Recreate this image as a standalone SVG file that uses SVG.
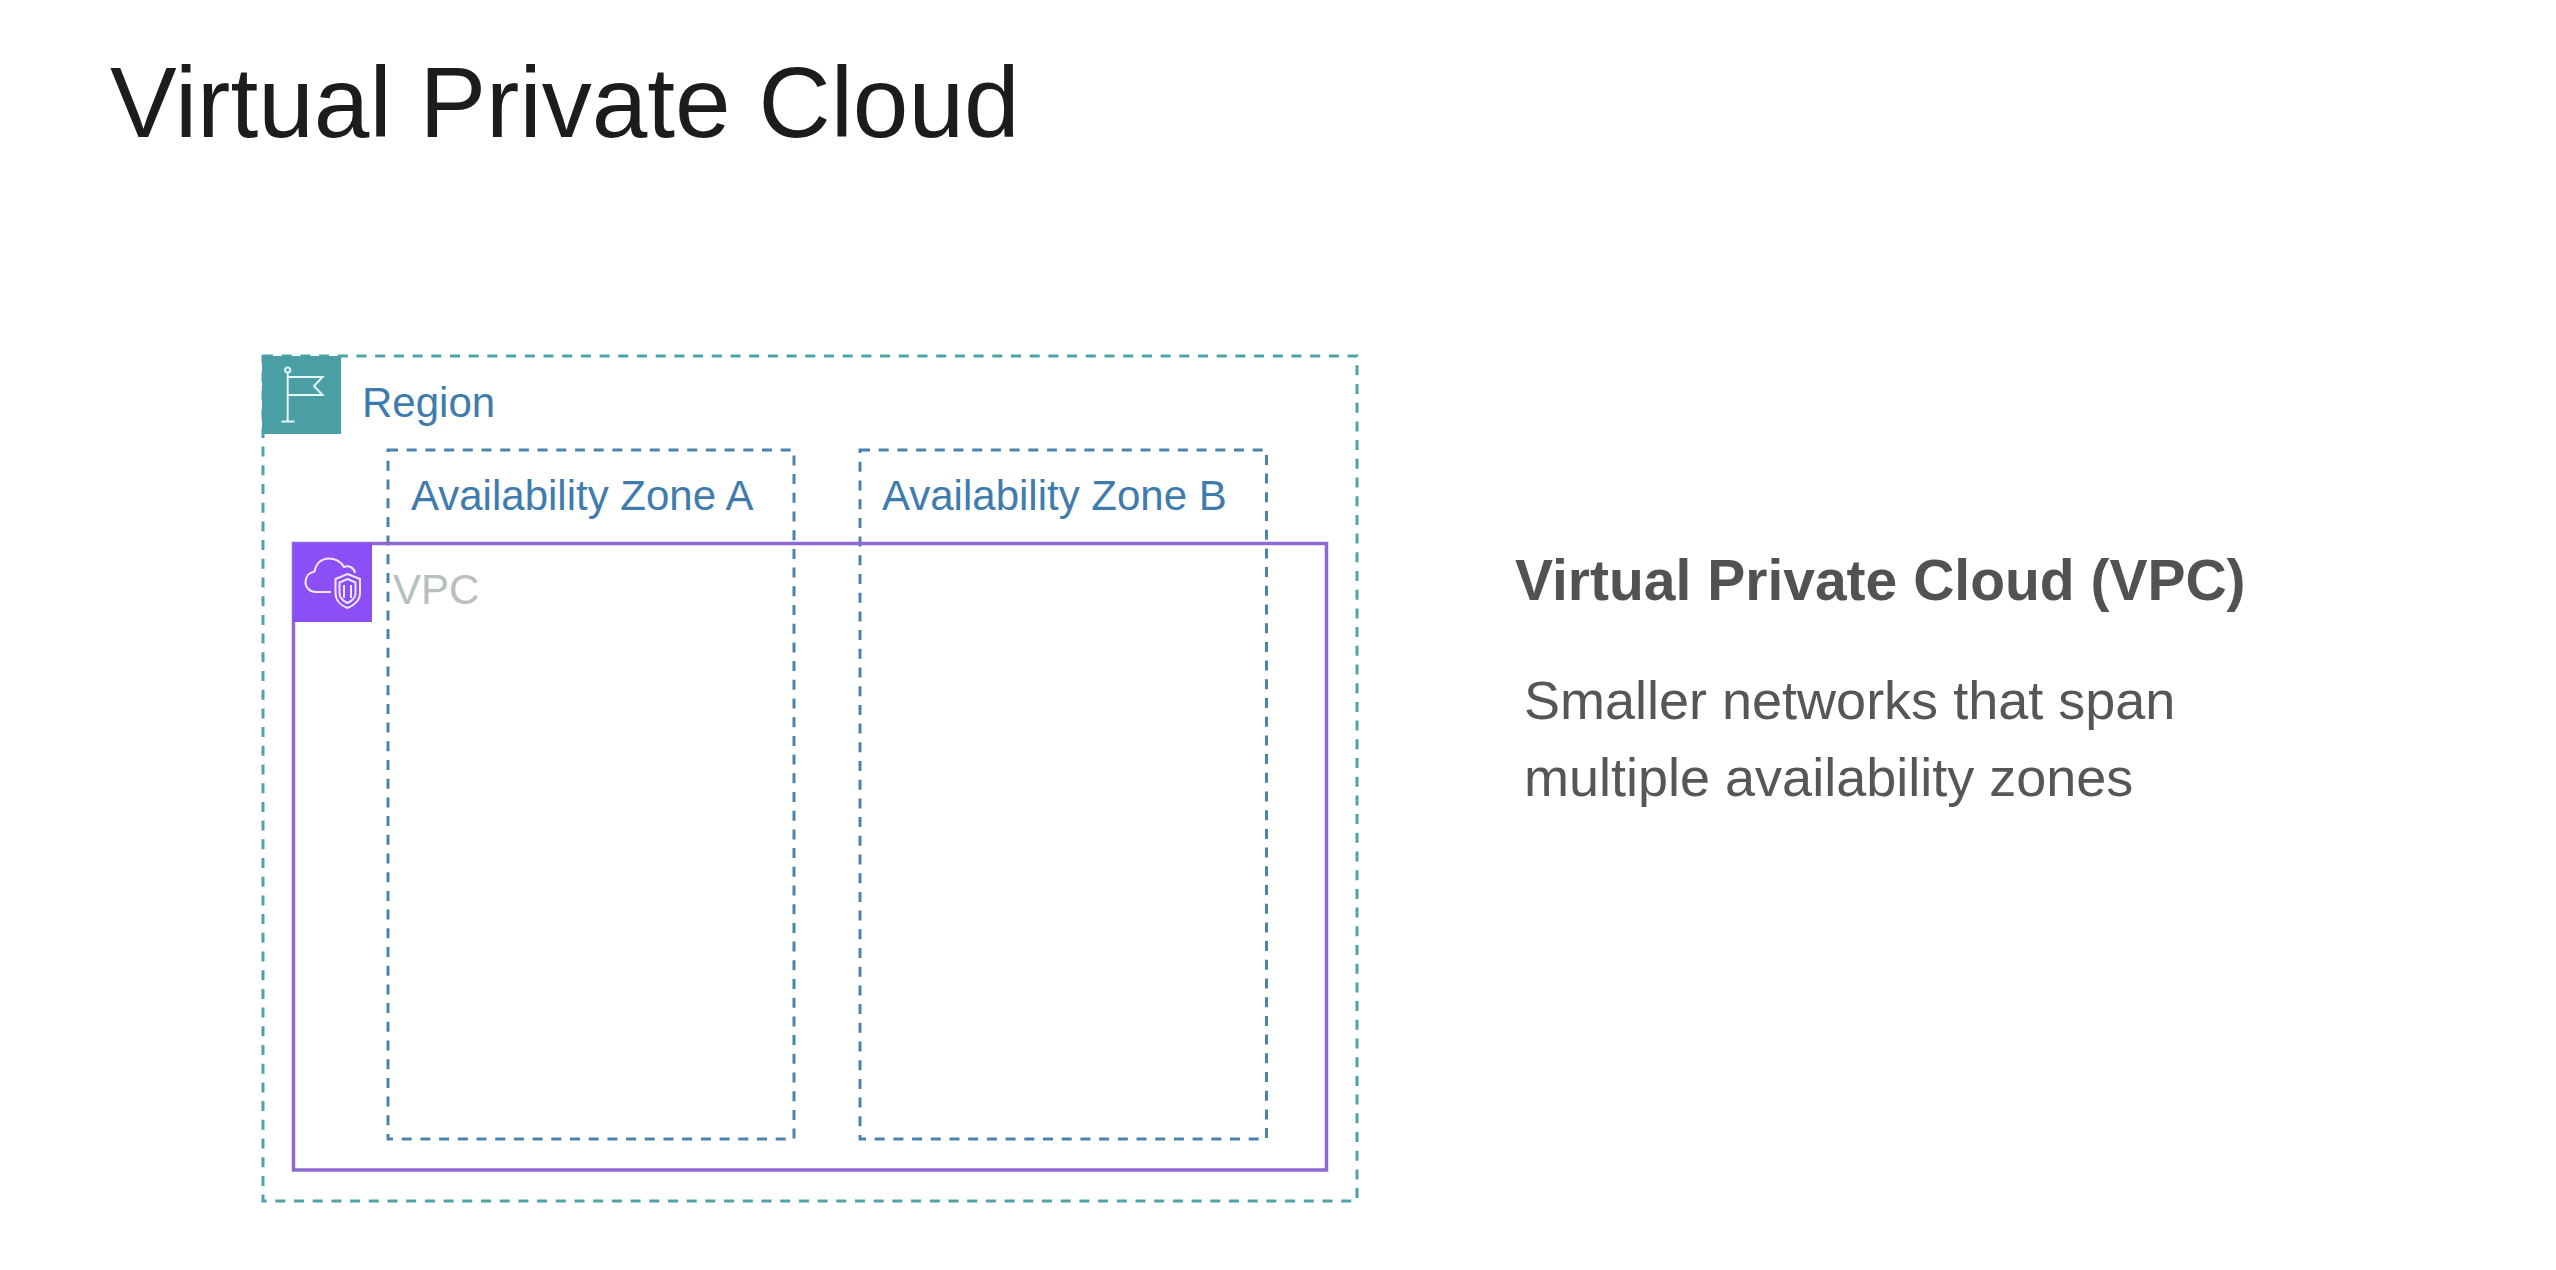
<svg xmlns="http://www.w3.org/2000/svg" width="2556" height="1270" viewBox="0 0 2556 1270">
<style>
text{font-family:"Liberation Sans",Arial,sans-serif}
.box{fill:none}
.region{stroke:#4fa3a6;stroke-width:3;stroke-dasharray:10 8.7}
.az{stroke:#4a83ad;stroke-width:3;stroke-dasharray:10 8.7}
.vpc{stroke:#8f69d3;stroke-width:3.5}
.blue{fill:#3f7cad;font-size:42px}
.ico{fill:none;stroke:#e6f6f6;stroke-width:2}
.ico2{fill:none;stroke:#f0e8ff;stroke-width:2}
</style>
<rect width="2556" height="1270" fill="#fff"/>
<text id="title" x="110" y="137" font-size="100" fill="#1c1c1c">Virtual Private Cloud</text>
<g id="region">
<rect class="box region" x="263" y="356" width="1094" height="845"/>
<rect x="262" y="356" width="79" height="78" fill="#4a9fa4"/>
<g class="ico">
<circle cx="287.7" cy="370" r="2.6"/>
<path d="M287.7 373V421.5M281.5 421.5H294.5M287.7 377H322.5L314 386L322.5 395H287.7"/>
</g>
<text class="blue" x="362" y="417">Region</text>
</g>
<g id="az-a">
<rect class="box az" x="388" y="450" width="406" height="689"/>
<text class="blue" x="411" y="510">Availability Zone A</text>
</g>
<g id="az-b">
<rect class="box az" x="860" y="450" width="406.500" height="689"/>
<text class="blue" x="882" y="510">Availability Zone B</text>
</g>
<g id="vpc">
<rect class="box vpc" x="293.500" y="543.500" width="1033" height="626.500"/>
<rect x="293" y="543" width="79" height="79" fill="#8c4ff5"/>
<g class="ico2">
<path d="M331 592H316C309.500 592 305.500 587.500 305.500 582C305.500 576.500 309 572.500 314.500 571.500C316 563 322 558.500 328.500 558.500C335.500 558.500 341 562 344 567C349 564.500 354.500 568.500 355 573"/>
<path d="M347.500 574L360 579V593C360 600 354.500 605.500 347.500 608C340.500 605.500 335.500 600 335.500 593V579Z"/>
<path d="M347.500 579L355.500 582.500V593C355.500 597.500 352 601 347.500 603C343 601 339.500 597.500 339.500 593V582.500Z"/>
<path d="M344 585V598M351 585V598"/>
</g>
<text x="393" y="604" font-size="42" fill="#b9bebe">VPC</text>
</g>
<g id="description">
<text x="1515" y="600" font-size="57" font-weight="700" fill="#525252">Virtual Private Cloud (VPC)</text>
<text x="1524" y="719" font-size="54" fill="#565656">Smaller networks that span</text>
<text x="1524" y="796" font-size="54" fill="#565656">multiple availability zones</text>
</g>
<g id="connectors"/>
</svg>
